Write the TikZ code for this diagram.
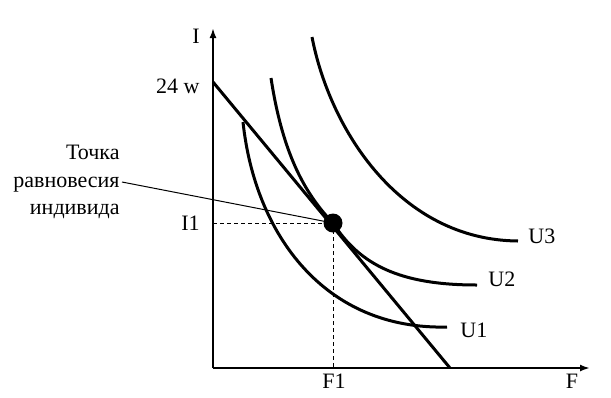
\documentclass[tikz,border=0pt]{standalone}
\usepackage{fontspec}
\setmainfont{Liberation Serif}
\usetikzlibrary{arrows.meta}

\begin{document}
\begin{tikzpicture}[x=0.5pt, y=-0.5pt,
    curve/.style = {line width=1.5pt},
    axis/.style = {line width=1pt, -{Latex[length=5pt, width=3.5pt]}},
    lbl/.style = {font=\fontsize{11}{13.75}\selectfont, inner sep=0pt},
    guide/.style = {line width=0.5pt, dash pattern=on 2pt off 1.5pt}]
    \useasboundingbox (0,0) rectangle (611,397);

    \coordinate (O) at (213,368);
    \coordinate (Itip) at (213,28);
    \coordinate (Ftip) at (590,368);
    \coordinate (B0) at (213,82);
    \coordinate (B1) at (450,368);
    \coordinate (i1) at (213,223);
    \coordinate (f1) at (333,368);

    \node[lbl] (I) at (196,36) {I};
    \node[lbl] (F) at (572,381) {F};
    \node[lbl, anchor=east] (w24) at (200,86) {24 w};
    \node[lbl, anchor=east] (I1) at (200,223) {I1};
    \node[lbl] (F1) at (334,381) {F1};
    \node[lbl, anchor=west] (u1) at (460,330) {U1};
    \node[lbl, anchor=west] (u2) at (488,279) {U2};
    \node[lbl, anchor=west] (u3) at (528,236) {U3};
    \node[lbl, anchor=east, align=right] (point) at (120,182)
        {Точка\\равновесия\\индивида};

    \draw[axis] (O) -- (Itip);
    \draw[axis] (O) -- (Ftip);

    % indifference curves
    \draw[curve] (243,122) .. controls (255,235) and (325,330) .. (447,327);
    \draw[curve] (271,78) .. controls (282,150) and (303,192) .. (333,223)
        .. controls (360,265) and (400,285) .. (477,285);
    \draw[curve] (312,37) .. controls (330,130) and (400,240) .. (518,241);

    % budget line
    \draw[curve] (B0) -- (B1);

    \node[circle, fill, inner sep=0pt, minimum size=9.5pt] (eq) at (333,223) {};
    \draw[guide] (i1) -- (eq.center);
    \draw[guide] (eq.center) -- (f1);
    \draw[line width=0.5pt] ([xshift=1pt]point.east) -- (eq.center);
\end{tikzpicture}
\end{document}
